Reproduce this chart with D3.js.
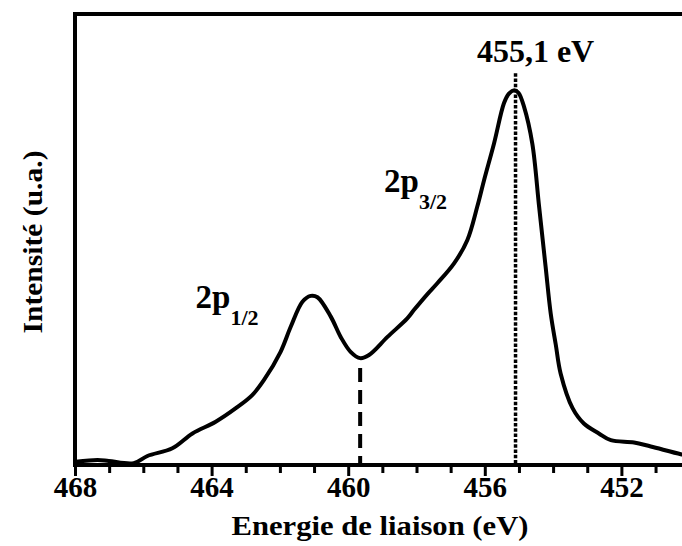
<!DOCTYPE html>
<html>
<head>
<meta charset="utf-8">
<script src="https://cdn.jsdelivr.net/npm/d3@7"></script>
<style>
  html, body { margin: 0; padding: 0; background: #fff; }
  svg { display: block; }
  text { font-family: "Liberation Serif", "Times New Roman", serif; font-weight: bold; fill: #000; }
</style>
</head>
<body>
<script>
// ---- data ----
const energy = [467.98, 467.34, 467.01, 466.28, 465.88, 465.15, 464.56, 463.88, 463.29, 462.81,
  462.47, 461.98, 461.68, 461.34, 461.10, 460.90, 460.51, 460.22, 459.93, 459.65,
  459.39, 458.85, 458.27, 458.07, 457.68, 457.39, 456.90, 456.51, 456.22, 456.02,
  455.73, 455.44, 455.30, 455.14, 455.01, 454.85, 454.61, 454.41, 454.22, 454.07,
  453.92, 453.78, 453.43, 453.10, 452.66, 452.31, 451.63, 451.14, 450.26, 450.0];
const intensity = [0.7, 1.1, 0.9, 0.4, 2.0, 3.7, 7.0, 9.6, 12.6, 15.5,
  18.8, 25.1, 30.7, 36.2, 37.5, 37.2, 32.9, 28.4, 25.1, 23.7,
  24.4, 28.4, 32.5, 34.4, 37.9, 40.3, 44.7, 49.9, 57.3, 63.2,
  71.3, 80.2, 82.3, 83.1, 82.5, 79.4, 71.3, 57.3, 44.0, 33.6,
  26.6, 20.3, 12.6, 9.2, 7.0, 5.5, 5.0, 4.1, 2.4, 2.0];
const majorTicks = [468, 464, 460, 456, 452];
const minorTicks = [467, 466, 465, 463, 462, 461, 459, 458, 457, 455, 454, 453, 451, 450];
const minimumE = 459.65;   // dashed marker
const peakE = 455.1;       // dotted marker
const peakLabel = "455,1 eV";
const spinLabels = [{ sub: "1/2", e: 464.47, i: 34.8 }, { sub: "3/2", e: 458.95, i: 60.6 }];
const xTitle = "Energie de liaison (eV)";
const yTitle = "Intensité (u.a.)";

// ---- layout ----
const W = 682, H = 546;
const mLeft = 75, mTop = 14, mBottom = 465;
const x = d3.scaleLinear().domain([468, 450]).range([mLeft, mLeft + 18 * 34.15]);
const y = d3.scaleLinear().domain([0, 100]).range([mBottom, mTop]);

const svg = d3.select("body").append("svg").attr("width", W).attr("height", H);

// frame: top and left lines
svg.append("line").attr("x1", mLeft).attr("x2", W + 10).attr("y1", mTop).attr("y2", mTop)
  .attr("stroke", "#000").attr("stroke-width", 4);
svg.append("line").attr("x1", mLeft).attr("x2", mLeft).attr("y1", mTop - 2).attr("y2", mBottom)
  .attr("stroke", "#000").attr("stroke-width", 4);

// x axis
const gMinor = svg.append("g").attr("transform", `translate(0,${mBottom})`)
  .call(d3.axisBottom(x).tickValues(minorTicks).tickSize(8).tickFormat(""));
const gMajor = svg.append("g").attr("transform", `translate(0,${mBottom})`)
  .call(d3.axisBottom(x).tickValues(majorTicks).tickSize(11).tickPadding(8).tickFormat(d3.format("d")));
[gMinor, gMajor].forEach(g => {
  g.select(".domain").remove();
  g.selectAll(".tick line").attr("stroke", "#000").attr("stroke-width", 3);
});
gMajor.selectAll(".tick text").attr("font-size", 29).attr("dy", null).attr("y", 32)
  .style("font-family", '"Liberation Serif", "Times New Roman", serif').style("font-weight", "bold");
svg.append("line").attr("x1", mLeft - 2).attr("x2", W + 10).attr("y1", mBottom).attr("y2", mBottom)
  .attr("stroke", "#000").attr("stroke-width", 4);

// curve
const pts = energy.map((e, i) => [e, intensity[i]]);
svg.append("path").datum(pts)
  .attr("d", d3.line().x(d => x(d[0])).y(d => y(d[1])).curve(d3.curveCatmullRom.alpha(0.5)))
  .attr("fill", "none").attr("stroke", "#000").attr("stroke-width", 4)
  .attr("stroke-linejoin", "round").attr("stroke-linecap", "round");

// markers
const minI = intensity[energy.indexOf(minimumE)];
svg.append("line").attr("x1", x(minimumE)).attr("x2", x(minimumE))
  .attr("y1", y(minI) + 10).attr("y2", mBottom)
  .attr("stroke", "#000").attr("stroke-width", 4).attr("stroke-dasharray", "14,8");
svg.append("line").attr("x1", x(peakE)).attr("x2", x(peakE))
  .attr("y1", y(83.1) - 17).attr("y2", mBottom)
  .attr("stroke", "#000").attr("stroke-width", 3.5).attr("stroke-dasharray", "3.5,1.8");

// annotations
svg.append("text").attr("x", x(peakE) + 20).attr("y", 62).attr("text-anchor", "middle")
  .attr("font-size", 32).text(peakLabel);

spinLabels.forEach(s => {
  const t = svg.append("text").attr("x", x(s.e)).attr("y", y(s.i)).attr("font-size", 33);
  t.append("tspan").text("2p");
  t.append("tspan").attr("font-size", 22).attr("dy", 17).text(s.sub);
});

// axis titles
svg.append("text").attr("x", 380).attr("y", 535).attr("text-anchor", "middle")
  .attr("font-size", 27).attr("textLength", 297).attr("lengthAdjust", "spacingAndGlyphs")
  .text(xTitle);
svg.append("text").attr("transform", "translate(42,242) rotate(-90)").attr("text-anchor", "middle")
  .attr("font-size", 28).attr("textLength", 183).attr("lengthAdjust", "spacingAndGlyphs")
  .text(yTitle);
</script>
</body>
</html>
